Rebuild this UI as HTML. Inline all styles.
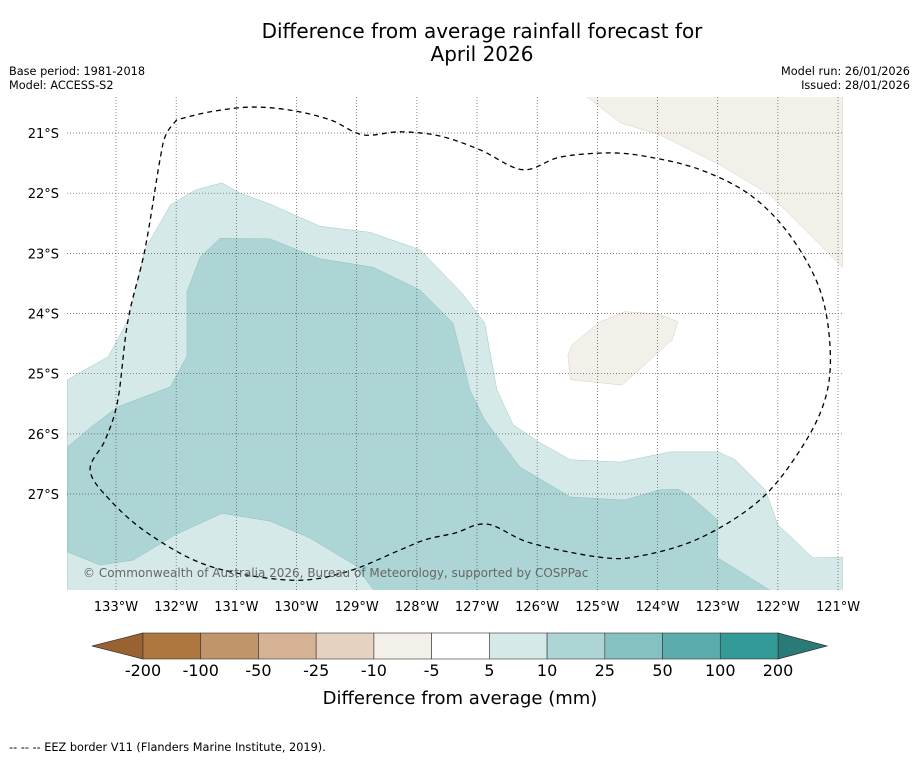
<!DOCTYPE html>
<html><head><meta charset="utf-8"><style>
body{margin:0;background:#fff;font-family:"Liberation Sans","DejaVu Sans",sans-serif;}
svg text{font-family:"DejaVu Sans","Liberation Sans",sans-serif;}
</style></head><body>
<svg id="s" width="919" height="758" xmlns="http://www.w3.org/2000/svg">
<text x="482" y="38" font-size="20" text-anchor="middle">Difference from average rainfall forecast for</text>
<text x="482" y="61" font-size="20" text-anchor="middle">April 2026</text>
<text x="9" y="75" font-size="11.3">Base period: 1981-2018</text>
<text x="9" y="89" font-size="11.3">Model: ACCESS-S2</text>
<text x="910" y="75" font-size="11.3" text-anchor="end">Model run: 26/01/2026</text>
<text x="910" y="89" font-size="11.3" text-anchor="end">Issued: 28/01/2026</text>
<defs><clipPath id="clip"><rect x="67" y="97" width="776" height="493"/></clipPath></defs>
<g id="map" clip-path="url(#clip)"></g>
<g id="axes"></g>
<g id="cbar"></g>
<text x="460" y="704" font-size="18" text-anchor="middle">Difference from average (mm)</text>
<text x="9" y="751" font-size="11.3">--  --  -- EEZ border V11 (Flanders Marine Institute, 2019).</text>
</svg>
<script>
const lonTicks=[-133,-132,-131,-130,-129,-128,-127,-126,-125,-124,-123,-122,-121];
const latTicks=[-21,-22,-23,-24,-25,-26,-27];
const cbarLabels=["-200","-100","-50","-25","-10","-5","5","10","25","50","100","200"];
const cbarColors=["#ad7740","#c1956a","#d4b293","#e5d2c0","#f3efe9","#ffffff","#d5e9e8","#add5d5","#84c1c0","#5aadac","#339a97"];
const light=[[-133.81,-25.10],[-133.13,-24.72],[-132.80,-24.11],[-132.52,-22.94],[-132.10,-22.20],[-131.69,-21.95],[-131.24,-21.83],[-130.94,-22.00],[-130.44,-22.18],[-129.61,-22.55],[-128.78,-22.65],[-127.95,-22.94],[-127.25,-23.66],[-126.87,-24.16],[-126.67,-25.27],[-126.40,-25.85],[-125.95,-26.15],[-125.45,-26.43],[-124.62,-26.47],[-123.79,-26.30],[-122.99,-26.30],[-122.71,-26.43],[-122.21,-26.93],[-122.00,-27.51],[-121.42,-28.06],[-120.92,-28.05],[-120.92,-28.68],[-133.81,-28.68]];
const medium=[[-133.81,-26.22],[-133.43,-25.90],[-132.97,-25.55],[-132.10,-25.22],[-131.82,-24.71],[-131.82,-23.64],[-131.60,-23.06],[-131.27,-22.75],[-130.44,-22.76],[-129.61,-23.09],[-128.73,-23.23],[-127.95,-23.61],[-127.40,-24.16],[-127.12,-25.27],[-126.87,-25.77],[-126.29,-26.55],[-125.45,-27.05],[-124.54,-27.10],[-123.96,-26.93],[-123.66,-26.92],[-123.46,-27.03],[-123.00,-27.43],[-123.00,-28.06],[-122.13,-28.60],[-122.05,-28.68],[-128.65,-28.68],[-129.03,-28.18],[-129.78,-27.73],[-130.44,-27.45],[-131.24,-27.32],[-132.02,-27.68],[-132.72,-28.10],[-133.27,-28.18],[-133.81,-27.96]];
const beigeNE=[[-125.21,-20.37],[-124.62,-20.83],[-123.96,-21.03],[-122.96,-21.53],[-122.13,-22.03],[-120.92,-23.24],[-120.92,-20.37]];
const beigeIsland=[[-125.49,-24.69],[-125.42,-24.52],[-124.96,-24.14],[-124.54,-23.97],[-123.96,-24.01],[-123.66,-24.14],[-123.76,-24.44],[-124.12,-24.77],[-124.59,-25.19],[-125.45,-25.10]];
const eez=[[-131.99,-20.78],[-132.17,-21.03],[-132.27,-21.45],[-132.52,-22.94],[-132.80,-24.11],[-132.97,-25.44],[-133.18,-26.10],[-133.43,-26.60],[-133.10,-27.10],[-132.43,-27.68],[-131.44,-28.20],[-130.11,-28.43],[-129.19,-28.30],[-128.28,-27.93],[-127.86,-27.76],[-127.37,-27.65],[-126.83,-27.50],[-126.12,-27.81],[-124.96,-28.05],[-124.29,-28.03],[-123.29,-27.73],[-122.30,-27.10],[-121.63,-26.27],[-121.22,-25.44],[-121.13,-24.61],[-121.30,-23.61],[-121.80,-22.70],[-122.46,-22.03],[-123.29,-21.61],[-124.13,-21.40],[-124.79,-21.33],[-125.62,-21.40],[-126.24,-21.61],[-126.95,-21.28],[-127.62,-21.05],[-128.28,-20.98],[-128.90,-21.03],[-129.44,-20.78],[-130.11,-20.62],[-130.77,-20.57],[-131.44,-20.65],[-131.99,-20.78]];
const NS="http://www.w3.org/2000/svg";
const PX=60.17;
function xOf(lon){return 116+(lon+133)*PX;}
function yOf(lat){return 133+(-21-lat)*PX;}
function mk(tag,attrs,parent){const e=document.createElementNS(NS,tag);for(const k in attrs)e.setAttribute(k,attrs[k]);parent.appendChild(e);return e;}
function pts(a){return a.map(p=>xOf(p[0]).toFixed(1)+","+yOf(p[1]).toFixed(1)).join(" ");}
function smooth(a){const P=a.map(p=>[xOf(p[0]),yOf(p[1])]);let d="M"+P[0][0]+","+P[0][1];
 for(let i=0;i<P.length-1;i++){const p0=P[Math.max(i-1,0)],p1=P[i],p2=P[i+1],p3=P[Math.min(i+2,P.length-1)];
  const c1=[p1[0]+(p2[0]-p0[0])/6,p1[1]+(p2[1]-p0[1])/6],c2=[p2[0]-(p3[0]-p1[0])/6,p2[1]-(p3[1]-p1[1])/6];
  d+=` C${c1[0].toFixed(1)},${c1[1].toFixed(1)} ${c2[0].toFixed(1)},${c2[1].toFixed(1)} ${p2[0].toFixed(1)},${p2[1].toFixed(1)}`;}
 return d;}
const map=document.getElementById('map'),axes=document.getElementById('axes'),cb=document.getElementById('cbar');
let e;
e=mk('polygon',{points:pts(light),fill:'#d5e9e8',stroke:'#9fc9c8','stroke-width':0.5},map);


e=mk('polygon',{points:pts(medium),fill:'#aed5d5',stroke:'#8cbfbf','stroke-width':0.5},map);


e=mk('polygon',{points:pts(beigeNE),fill:'#f3efe9',stroke:'#d8d0c4','stroke-width':0.5},map);


e=mk('polygon',{points:pts(beigeIsland),fill:'#f3efe9',stroke:'#d8d0c4','stroke-width':0.5},map);


lonTicks.forEach(l=>{const x=xOf(l);
 e=mk('line',{x1:x,x2:x,y1:97,y2:590,stroke:'#555','stroke-width':0.7,'stroke-dasharray':'1,2'},map);
 
 
 e=mk('text',{x:x,y:611,'font-size':13,'text-anchor':'middle'},axes);e.textContent=Math.abs(l)+"°W";
 
 
});
latTicks.forEach(l=>{const y=yOf(l);
 e=mk('line',{x1:67,x2:843,y1:y,y2:y,stroke:'#555','stroke-width':0.7,'stroke-dasharray':'1,2'},map);
 
 
 e=mk('text',{x:59,y:y+5,'font-size':13,'text-anchor':'end'},axes);e.textContent=Math.abs(l)+"°S";
 
 
});
e=mk('path',{d:smooth(eez),fill:'none',stroke:'#000','stroke-width':1.3,'stroke-dasharray':'5,4'},map);


e=mk('text',{x:83,y:577,'font-size':12,fill:'#666'},map);e.textContent="© Commonwealth of Australia 2026, Bureau of Meteorology, supported by COSPPac";


const cx0=143,cx1=778,cy=633,ch=26,bw=(cx1-cx0)/cbarColors.length;
e=mk('polygon',{points:`92,${cy+ch/2} ${cx0},${cy} ${cx0},${cy+ch}`,fill:'#9a6230',stroke:'#333','stroke-width':0.7},cb);


e=mk('polygon',{points:`827,${cy+ch/2} ${cx1},${cy} ${cx1},${cy+ch}`,fill:'#2a7a78',stroke:'#333','stroke-width':0.7},cb);


cbarColors.forEach((c,i)=>{
 e=mk('rect',{x:cx0+i*bw,y:cy,width:bw,height:ch,fill:c,stroke:'#333','stroke-width':0.6},cb);
 
 
});
cbarLabels.forEach((t,i)=>{
 e=mk('text',{x:cx0+i*bw,y:676,'font-size':16,'text-anchor':'middle'},cb);e.textContent=t;
 
 
});
</script>
</body></html>
